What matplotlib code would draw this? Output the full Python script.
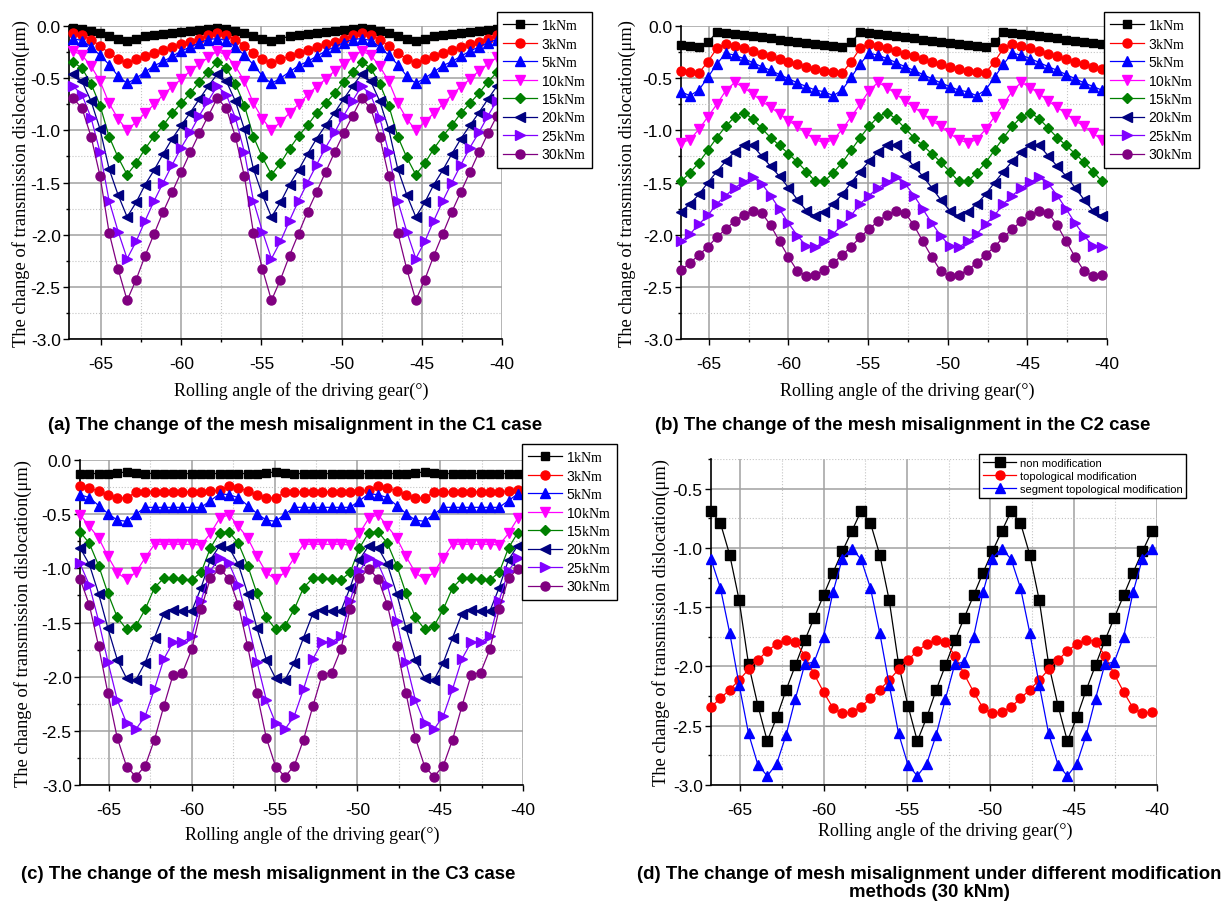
import matplotlib
matplotlib.use("Agg")
import matplotlib.pyplot as plt
from matplotlib.ticker import MultipleLocator

plt.rcParams['font.family'] = ['Liberation Sans', 'DejaVu Sans']
plt.rcParams['mathtext.fontset'] = 'custom'
plt.rcParams['mathtext.rm'] = 'Liberation Serif'
plt.rcParams['axes.unicode_minus'] = False

# rolling angle of the driving gear (deg), one sample every 0.5625 deg
angle = [-66.75, -66.1875, -65.625, -65.0625, -64.5, -63.9375, -63.375, -62.8125,
         -62.25, -61.6875, -61.125, -60.5625, -60.0, -59.4375, -58.875, -58.3125,
         -57.75, -57.1875, -56.625, -56.0625, -55.5, -54.9375, -54.375, -53.8125,
         -53.25, -52.6875, -52.125, -51.5625, -51.0, -50.4375, -49.875, -49.3125,
         -48.75, -48.1875, -47.625, -47.0625, -46.5, -45.9375, -45.375, -44.8125,
         -44.25, -43.6875, -43.125, -42.5625, -42.0, -41.4375, -40.875, -40.3125]

loads = ['1', '3', '5', '10', '15', '20', '25', '30']

# C1 case
c1_1knm = [-0.02, -0.03, -0.05, -0.07, -0.10, -0.12, -0.14, -0.12, -0.10, -0.09, -0.08, -0.07, -0.06, -0.05, -0.04, -0.03,
           -0.02, -0.03, -0.05, -0.07, -0.10, -0.12, -0.14, -0.12, -0.10, -0.09, -0.08, -0.07, -0.06, -0.05, -0.04, -0.03,
           -0.02, -0.03, -0.05, -0.07, -0.10, -0.12, -0.14, -0.12, -0.10, -0.09, -0.08, -0.07, -0.06, -0.05, -0.04, -0.03]
c1_3knm = [-0.07, -0.085, -0.13, -0.19, -0.26, -0.315, -0.355, -0.32, -0.29, -0.26, -0.23, -0.205, -0.175, -0.15, -0.12, -0.09,
           -0.07, -0.085, -0.13, -0.19, -0.26, -0.315, -0.355, -0.32, -0.29, -0.26, -0.23, -0.205, -0.175, -0.15, -0.12, -0.09,
           -0.07, -0.085, -0.13, -0.19, -0.26, -0.315, -0.355, -0.32, -0.29, -0.26, -0.23, -0.205, -0.175, -0.15, -0.12, -0.09]
c1_5knm = [-0.12, -0.14, -0.20, -0.28, -0.37, -0.48, -0.55, -0.50, -0.44, -0.38, -0.34, -0.29, -0.24, -0.20, -0.16, -0.13,
           -0.12, -0.14, -0.20, -0.28, -0.37, -0.48, -0.55, -0.50, -0.44, -0.38, -0.34, -0.29, -0.24, -0.20, -0.16, -0.13,
           -0.12, -0.14, -0.20, -0.28, -0.37, -0.48, -0.55, -0.50, -0.44, -0.38, -0.34, -0.29, -0.24, -0.20, -0.16, -0.13]
c1_10knm = [-0.24, -0.28, -0.385, -0.53, -0.74, -0.89, -1.0, -0.92, -0.835, -0.75, -0.66, -0.58, -0.51, -0.43, -0.365, -0.30,
            -0.24, -0.28, -0.385, -0.53, -0.74, -0.89, -1.0, -0.92, -0.835, -0.75, -0.66, -0.58, -0.51, -0.43, -0.365, -0.30,
            -0.24, -0.28, -0.385, -0.53, -0.74, -0.89, -1.0, -0.92, -0.835, -0.75, -0.66, -0.58, -0.51, -0.43, -0.365, -0.30]
c1_15knm = [-0.345, -0.405, -0.553, -0.762, -1.06, -1.26, -1.425, -1.315, -1.176, -1.055, -0.952, -0.835, -0.74, -0.645, -0.535, -0.443,
            -0.345, -0.405, -0.553, -0.762, -1.06, -1.26, -1.425, -1.315, -1.176, -1.055, -0.952, -0.835, -0.74, -0.645, -0.535, -0.443,
            -0.345, -0.405, -0.553, -0.762, -1.06, -1.26, -1.425, -1.315, -1.176, -1.055, -0.952, -0.835, -0.74, -0.645, -0.535, -0.443]
c1_20knm = [-0.46, -0.53, -0.72, -0.99, -1.37, -1.62, -1.83, -1.69, -1.52, -1.38, -1.225, -1.08, -0.953, -0.83, -0.70, -0.576,
            -0.46, -0.53, -0.72, -0.99, -1.37, -1.62, -1.83, -1.69, -1.52, -1.38, -1.225, -1.08, -0.953, -0.83, -0.70, -0.576,
            -0.46, -0.53, -0.72, -0.99, -1.37, -1.62, -1.83, -1.69, -1.52, -1.38, -1.225, -1.08, -0.953, -0.83, -0.70, -0.576]
c1_25knm = [-0.575, -0.66, -0.88, -1.21, -1.675, -1.97, -2.23, -2.065, -1.865, -1.675, -1.50, -1.33, -1.165, -1.02, -0.86, -0.715,
            -0.575, -0.66, -0.88, -1.21, -1.675, -1.97, -2.23, -2.065, -1.865, -1.675, -1.50, -1.33, -1.165, -1.02, -0.86, -0.715,
            -0.575, -0.66, -0.88, -1.21, -1.675, -1.97, -2.23, -2.065, -1.865, -1.675, -1.50, -1.33, -1.165, -1.02, -0.86, -0.715]
c1_30knm = [-0.69, -0.79, -1.06, -1.44, -1.98, -2.33, -2.63, -2.43, -2.20, -1.99, -1.78, -1.59, -1.40, -1.21, -1.03, -0.86,
            -0.69, -0.79, -1.06, -1.44, -1.98, -2.33, -2.63, -2.43, -2.20, -1.99, -1.78, -1.59, -1.40, -1.21, -1.03, -0.86,
            -0.69, -0.79, -1.06, -1.44, -1.98, -2.33, -2.63, -2.43, -2.20, -1.99, -1.78, -1.59, -1.40, -1.21, -1.03, -0.86]

# C2 case
c2_1knm = [-0.178, -0.19, -0.205, -0.157, -0.06, -0.07, -0.08, -0.087, -0.097, -0.107, -0.117, -0.13, -0.142, -0.155, -0.165, -0.172,
           -0.178, -0.19, -0.205, -0.157, -0.06, -0.07, -0.08, -0.087, -0.097, -0.107, -0.117, -0.13, -0.142, -0.155, -0.165, -0.172,
           -0.178, -0.19, -0.205, -0.157, -0.06, -0.07, -0.08, -0.087, -0.097, -0.107, -0.117, -0.13, -0.142, -0.155, -0.165, -0.172]
c2_3knm = [-0.428, -0.444, -0.45, -0.342, -0.214, -0.169, -0.188, -0.214, -0.243, -0.268, -0.291, -0.316, -0.342, -0.364, -0.39, -0.412,
           -0.428, -0.444, -0.45, -0.342, -0.214, -0.169, -0.188, -0.214, -0.243, -0.268, -0.291, -0.316, -0.342, -0.364, -0.39, -0.412,
           -0.428, -0.444, -0.45, -0.342, -0.214, -0.169, -0.188, -0.214, -0.243, -0.268, -0.291, -0.316, -0.342, -0.364, -0.39, -0.412]
c2_5knm = [-0.63, -0.668, -0.613, -0.492, -0.364, -0.26, -0.28, -0.312, -0.35, -0.39, -0.425, -0.465, -0.505, -0.545, -0.58, -0.615,
           -0.63, -0.668, -0.613, -0.492, -0.364, -0.26, -0.28, -0.312, -0.35, -0.39, -0.425, -0.465, -0.505, -0.545, -0.58, -0.615,
           -0.63, -0.668, -0.613, -0.492, -0.364, -0.26, -0.28, -0.312, -0.35, -0.39, -0.425, -0.465, -0.505, -0.545, -0.58, -0.615]
c2_10knm = [-1.12, -1.09, -0.99, -0.87, -0.75, -0.62, -0.54, -0.59, -0.65, -0.72, -0.78, -0.84, -0.91, -0.96, -1.03, -1.09,
            -1.12, -1.09, -0.99, -0.87, -0.75, -0.62, -0.54, -0.59, -0.65, -0.72, -0.78, -0.84, -0.91, -0.96, -1.03, -1.09,
            -1.12, -1.09, -0.99, -0.87, -0.75, -0.62, -0.54, -0.59, -0.65, -0.72, -0.78, -0.84, -0.91, -0.96, -1.03, -1.09]
c2_15knm = [-1.49, -1.405, -1.31, -1.19, -1.07, -0.96, -0.87, -0.83, -0.89, -0.98, -1.07, -1.145, -1.225, -1.305, -1.395, -1.49,
            -1.49, -1.405, -1.31, -1.19, -1.07, -0.96, -0.87, -0.83, -0.89, -0.98, -1.07, -1.145, -1.225, -1.305, -1.395, -1.49,
            -1.49, -1.405, -1.31, -1.19, -1.07, -0.96, -0.87, -0.83, -0.89, -0.98, -1.07, -1.145, -1.225, -1.305, -1.395, -1.49]
c2_20knm = [-1.78, -1.705, -1.615, -1.50, -1.395, -1.295, -1.205, -1.14, -1.145, -1.245, -1.345, -1.44, -1.55, -1.665, -1.77, -1.825,
            -1.78, -1.705, -1.615, -1.50, -1.395, -1.295, -1.205, -1.14, -1.145, -1.245, -1.345, -1.44, -1.55, -1.665, -1.77, -1.825,
            -1.78, -1.705, -1.615, -1.50, -1.395, -1.295, -1.205, -1.14, -1.145, -1.245, -1.345, -1.44, -1.55, -1.665, -1.77, -1.825]
c2_25knm = [-2.065, -1.995, -1.90, -1.815, -1.705, -1.625, -1.55, -1.495, -1.45, -1.51, -1.625, -1.755, -1.89, -2.01, -2.11, -2.12,
            -2.065, -1.995, -1.90, -1.815, -1.705, -1.625, -1.55, -1.495, -1.45, -1.51, -1.625, -1.755, -1.89, -2.01, -2.11, -2.12,
            -2.065, -1.995, -1.90, -1.815, -1.705, -1.625, -1.55, -1.495, -1.45, -1.51, -1.625, -1.755, -1.89, -2.01, -2.11, -2.12]
c2_30knm = [-2.34, -2.27, -2.195, -2.115, -2.025, -1.945, -1.87, -1.81, -1.775, -1.79, -1.91, -2.065, -2.215, -2.35, -2.395, -2.385,
            -2.34, -2.27, -2.195, -2.115, -2.025, -1.945, -1.87, -1.81, -1.775, -1.79, -1.91, -2.065, -2.215, -2.35, -2.395, -2.385,
            -2.34, -2.27, -2.195, -2.115, -2.025, -1.945, -1.87, -1.81, -1.775, -1.79, -1.91, -2.065, -2.215, -2.35, -2.395, -2.385]

# C3 case
c3_1knm = [-0.125, -0.125, -0.125, -0.125, -0.12, -0.11, -0.12, -0.125, -0.125, -0.125, -0.125, -0.125, -0.125, -0.125, -0.125, -0.125,
           -0.125, -0.125, -0.125, -0.125, -0.12, -0.11, -0.12, -0.125, -0.125, -0.125, -0.125, -0.125, -0.125, -0.125, -0.125, -0.125,
           -0.125, -0.125, -0.125, -0.125, -0.12, -0.11, -0.12, -0.125, -0.125, -0.125, -0.125, -0.125, -0.125, -0.125, -0.125, -0.125]
c3_3knm = [-0.238, -0.255, -0.29, -0.32, -0.35, -0.35, -0.297, -0.293, -0.293, -0.293, -0.293, -0.293, -0.293, -0.293, -0.288, -0.28,
           -0.238, -0.255, -0.29, -0.32, -0.35, -0.35, -0.297, -0.293, -0.293, -0.293, -0.293, -0.293, -0.293, -0.293, -0.288, -0.28,
           -0.238, -0.255, -0.29, -0.32, -0.35, -0.35, -0.297, -0.293, -0.293, -0.293, -0.293, -0.293, -0.293, -0.293, -0.288, -0.28]
c3_5knm = [-0.32, -0.348, -0.42, -0.494, -0.555, -0.566, -0.50, -0.437, -0.437, -0.437, -0.437, -0.437, -0.437, -0.437, -0.375, -0.312,
           -0.32, -0.348, -0.42, -0.494, -0.555, -0.566, -0.50, -0.437, -0.437, -0.437, -0.437, -0.437, -0.437, -0.437, -0.375, -0.312,
           -0.32, -0.348, -0.42, -0.494, -0.555, -0.566, -0.50, -0.437, -0.437, -0.437, -0.437, -0.437, -0.437, -0.437, -0.375, -0.312]
c3_10knm = [-0.505, -0.612, -0.72, -0.89, -1.04, -1.102, -1.037, -0.902, -0.778, -0.778, -0.778, -0.778, -0.778, -0.785, -0.678, -0.537,
            -0.505, -0.612, -0.72, -0.89, -1.04, -1.102, -1.037, -0.902, -0.778, -0.778, -0.778, -0.778, -0.778, -0.785, -0.678, -0.537,
            -0.505, -0.612, -0.72, -0.89, -1.04, -1.102, -1.037, -0.902, -0.778, -0.778, -0.778, -0.778, -0.778, -0.785, -0.678, -0.537]
c3_15knm = [-0.662, -0.769, -0.975, -1.232, -1.452, -1.563, -1.532, -1.378, -1.178, -1.09, -1.092, -1.10, -1.108, -1.037, -0.812, -0.67,
            -0.662, -0.769, -0.975, -1.232, -1.452, -1.563, -1.532, -1.378, -1.178, -1.09, -1.092, -1.10, -1.108, -1.037, -0.812, -0.67,
            -0.662, -0.769, -0.975, -1.232, -1.452, -1.563, -1.532, -1.378, -1.178, -1.09, -1.092, -1.10, -1.108, -1.037, -0.812, -0.67]
c3_20knm = [-0.81, -0.963, -1.235, -1.555, -1.843, -2.016, -2.03, -1.87, -1.64, -1.417, -1.388, -1.39, -1.394, -1.178, -0.92, -0.79,
            -0.81, -0.963, -1.235, -1.555, -1.843, -2.016, -2.03, -1.87, -1.64, -1.417, -1.388, -1.39, -1.394, -1.178, -0.92, -0.79,
            -0.81, -0.963, -1.235, -1.555, -1.843, -2.016, -2.03, -1.87, -1.64, -1.417, -1.388, -1.39, -1.394, -1.178, -0.92, -0.79]
c3_25knm = [-0.955, -1.155, -1.486, -1.863, -2.215, -2.428, -2.486, -2.363, -2.113, -1.837, -1.68, -1.68, -1.628, -1.297, -1.02, -0.905,
            -0.955, -1.155, -1.486, -1.863, -2.215, -2.428, -2.486, -2.363, -2.113, -1.837, -1.68, -1.68, -1.628, -1.297, -1.02, -0.905,
            -0.955, -1.155, -1.486, -1.863, -2.215, -2.428, -2.486, -2.363, -2.113, -1.837, -1.68, -1.68, -1.628, -1.297, -1.02, -0.905]
c3_30knm = [-1.095, -1.338, -1.72, -2.155, -2.565, -2.83, -2.923, -2.822, -2.58, -2.272, -1.98, -1.962, -1.748, -1.375, -1.09, -1.005,
            -1.095, -1.338, -1.72, -2.155, -2.565, -2.83, -2.923, -2.822, -2.58, -2.272, -1.98, -1.962, -1.748, -1.375, -1.09, -1.005,
            -1.095, -1.338, -1.72, -2.155, -2.565, -2.83, -2.923, -2.822, -2.58, -2.272, -1.98, -1.962, -1.748, -1.375, -1.09, -1.005]

c1_series = [c1_1knm, c1_3knm, c1_5knm, c1_10knm, c1_15knm, c1_20knm, c1_25knm, c1_30knm]
c2_series = [c2_1knm, c2_3knm, c2_5knm, c2_10knm, c2_15knm, c2_20knm, c2_25knm, c2_30knm]
c3_series = [c3_1knm, c3_3knm, c3_5knm, c3_10knm, c3_15knm, c3_20knm, c3_25knm, c3_30knm]

# panel (d): the 30 kNm curves of the three cases
method_names = ['non modification', 'topological modification', 'segment topological modification']
method_series = [c1_30knm, c2_30knm, c3_30knm]

load_colors = ['#000000', '#ff0000', '#0000ff', '#ff00ff', '#008000', '#000080', '#8000ff', '#800080']
load_markers = ['s', 'o', '^', 'v', 'D', '<', '>', 'o']
load_sizes = [5.5, 6.5, 6.5, 6.5, 5.5, 6.5, 6.5, 6.5]

W, H = 1223, 903
fig = plt.figure(figsize=(W / 100, H / 100), dpi=100)


def px_axes(left, top, right, bottom):
    """ Axes placed by pixel box of the reference """
    return fig.add_axes([left / W, 1 - bottom / H, (right - left) / W, (bottom - top) / H])


def style_axes(ax, xlim, ylim, ylab_x, xlab_x, xlab_y):
    ax.set_xlim(*xlim)
    ax.set_ylim(*ylim)
    ax.xaxis.set_major_locator(MultipleLocator(5))
    ax.xaxis.set_minor_locator(MultipleLocator(2.5))
    ax.yaxis.set_major_locator(MultipleLocator(0.5))
    ax.yaxis.set_minor_locator(MultipleLocator(0.25))
    ax.yaxis.set_major_formatter('{x:.1f}')
    ax.xaxis.set_major_formatter('{x:.0f}')
    for side in ['top', 'right']:
        ax.spines[side].set_visible(False)
    for side in ['left', 'bottom']:
        ax.spines[side].set_linewidth(1.2)
    ax.grid(True, which='major', color='#a0a0a0', linewidth=1.1, linestyle='-')
    ax.grid(True, which='minor', color='#c4c4c4', linewidth=0.8, linestyle=':')
    ax.set_axisbelow(True)
    ax.tick_params(which='major', direction='out', length=4, width=1, labelsize=12.5, pad=2)
    ax.tick_params(axis='x', which='major', pad=8)
    ax.tick_params(which='minor', direction='out', length=2.5, width=1)
    ax.set_ylabel('The change of transmission dislocation(\u03bcm)', family='Liberation Serif', fontsize=13.3)
    ax.set_xlabel('Rolling angle of the driving gear(\u00b0)', family='Liberation Serif', fontsize=13)
    ax.yaxis.set_label_coords(ylab_x, 0.5)
    ax.xaxis.set_label_coords(xlab_x, xlab_y)


def draw_loads(ax, series, leg_left, leg_top):
    for vals, load, col, mk, ms in zip(series, loads, load_colors, load_markers, load_sizes):
        ax.plot(angle, vals, color=col, marker=mk, markersize=ms, linewidth=0.9,
                markeredgecolor=col, label=load + r'$\mathrm{kNm}$', clip_on=False, zorder=3)
    ax.legend(loc='upper left', bbox_to_anchor=(leg_left / W, 1 - leg_top / H),
              bbox_transform=fig.transFigure, fontsize=10, frameon=True, fancybox=False,
              edgecolor='black', framealpha=1, handlelength=2.4, handletextpad=0.3,
              labelspacing=0.32, borderpad=0.45, borderaxespad=0)


ax_a = px_axes(69, 27, 502, 340)
style_axes(ax_a, (-67, -40), (-3.0, 0.0), -0.09, 0.536, -0.134)
draw_loads(ax_a, c1_series, 497, 13)

ax_b = px_axes(681, 27, 1107, 340)
style_axes(ax_b, (-66.75, -40), (-3.0, 0.0), -0.106, 0.53, -0.134)
draw_loads(ax_b, c2_series, 1104, 13)

ax_c = px_axes(80, 461, 523, 786)
style_axes(ax_c, (-66.75, -40), (-3.0, 0.0), -0.108, 0.524, -0.124)
draw_loads(ax_c, c3_series, 522, 445)

ax_d = px_axes(711, 460, 1157, 786)
style_axes(ax_d, (-66.75, -40), (-3.0, -0.25), -0.091, 0.526, -0.111)
for vals, name, col, mk in zip(method_series, method_names, ['#000000', '#ff0000', '#0000ff'], ['s', 'o', '^']):
    ax_d.plot(angle, vals, color=col, marker=mk, markersize=6.5, linewidth=0.9,
              markeredgecolor=col, label=name, clip_on=False, zorder=3)
ax_d.legend(loc='upper left', bbox_to_anchor=(979 / W, 1 - 455 / H), bbox_transform=fig.transFigure,
            fontsize=8, frameon=True, fancybox=False, edgecolor='black', framealpha=1,
            handlelength=3.0, handletextpad=0.3, labelspacing=0.28, borderpad=0.35, borderaxespad=0)

# captions
cap = dict(fontsize=13.4, fontweight='bold', ha='center', va='center')
fig.text(295 / W, 1 - 426 / H, '(a) The change of the mesh misalignment in the C1 case', **cap)
fig.text(903 / W, 1 - 426 / H, '(b) The change of the mesh misalignment in the C2 case', **cap)
fig.text(268 / W, 1 - 875 / H, '(c) The change of the mesh misalignment in the C3 case', **cap)
fig.text(929 / W, 1 - 875 / H, '(d) The change of mesh misalignment under different modification', **cap)
fig.text(929 / W, 1 - 893 / H, 'methods (30 kNm)', **cap)

fig.savefig('out.png', dpi=100)
